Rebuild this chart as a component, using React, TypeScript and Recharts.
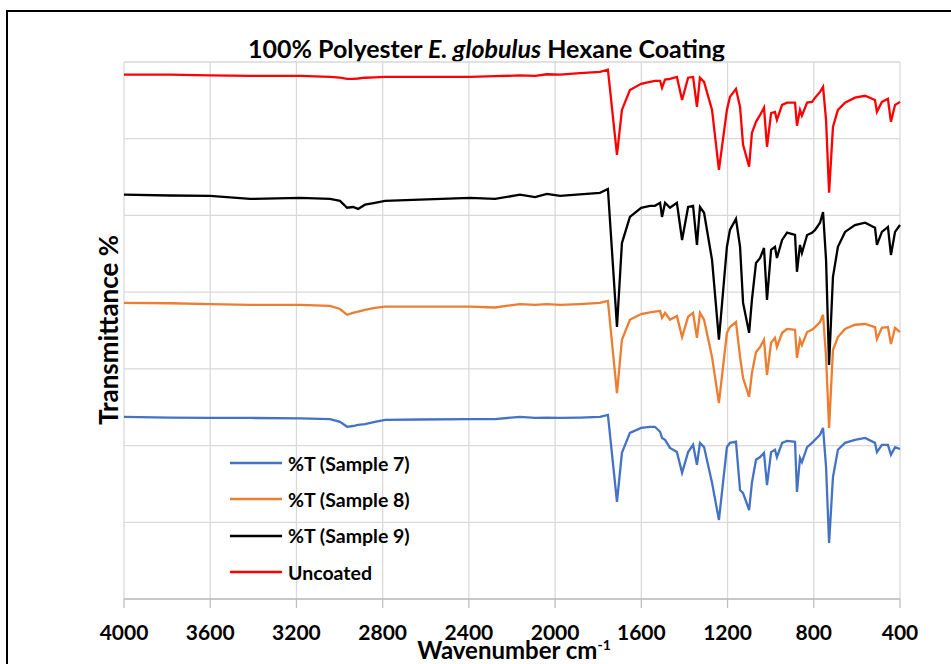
import React from 'react';
import { CartesianGrid, Legend, Line, LineChart, XAxis, YAxis } from 'recharts';

const FONT = 'Lato, "Noto Sans", sans-serif';

// wavenumber (cm-1) of every sampled point, high to low
const wavenumbers = [
  4000, 3787, 3601, 3415, 3183, 3044, 2998, 2965, 2938, 2914, 2882, 2836, 2789, 2627, 2395, 2279, 2163, 2093, 2038,
  1977, 1885, 1792, 1755, 1713, 1690, 1653, 1601, 1560, 1537, 1513, 1504, 1490, 1467, 1435, 1411, 1383, 1360, 1342,
  1328, 1309, 1272, 1240, 1203, 1189, 1161, 1142, 1128, 1100, 1087, 1068, 1049, 1031, 1017, 998, 980, 971, 947, 924,
  887, 878, 864, 855, 831, 808, 794, 771, 757, 743, 729, 711, 688, 655, 609, 562, 516, 507, 484, 456, 442, 423, 400,
];

// stacked %T traces (offset units)
const sample7 = [
  47.5, 47.3, 47.2, 47.2, 47.1, 46.9, 46.2, 44.9, 45.1, 45.4, 45.6, 46.2, 46.7, 46.8, 46.9, 46.9, 47.5, 47.2, 47.3,
  47.2, 47.3, 47.5, 48.0,
  25.3, 38.1, 43.3, 44.6, 44.9, 44.9, 43.6, 42.0, 41.5, 39.4, 38.3, 32.9, 38.3, 40.2, 35.0, 40.7, 39.6, 30.3, 20.6,
  39.6, 40.7, 41.0, 28.4, 27.6, 23.2, 30.3, 36.3, 37.0, 38.1, 29.7, 38.3, 38.9, 37.0, 40.7, 41.2, 41.0, 27.9, 36.8,
  35.7, 39.6, 40.7, 41.5, 42.8, 44.6, 34.4, 14.6, 31.8, 38.9, 40.7, 41.5, 42.0, 40.7, 38.3, 40.2, 40.2, 37.6, 39.6,
  39.1,
];

const sample8 = [
  77.2, 77.1, 76.9, 76.7, 76.7, 76.4, 75.6, 74.1, 74.6, 74.9, 75.4, 75.9, 76.2, 76.2, 76.2, 76.0, 76.9, 76.7, 76.9,
  76.7, 76.9, 77.2, 77.7,
  53.7, 67.6, 72.8, 74.3, 74.7, 74.9, 75.1, 73.3, 74.6, 72.8, 73.8, 68.3, 73.6, 74.6, 68.1, 74.6, 72.8, 63.1, 51.1,
  69.4, 70.9, 72.2, 63.1, 57.6, 52.7, 58.9, 64.4, 65.7, 67.6, 58.4, 66.8, 68.1, 65.7, 69.4, 70.4, 70.2, 62.9, 67.6,
  66.2, 69.6, 70.2, 70.9, 72.2, 74.1, 63.1, 44.6, 64.9, 68.3, 70.4, 71.5, 71.7, 70.9, 67.8, 70.7, 70.9, 66.5, 70.7,
  69.6,
];

const sample9 = [
  105.4, 105.2, 105.1, 104.3, 104.6, 104.3, 103.8, 102.0, 102.2, 101.7, 102.8, 103.3, 103.8, 104.1, 104.6, 104.3,
  105.4, 104.8, 105.6, 105.1, 105.5, 105.9, 106.9,
  70.9, 92.8, 99.6, 102.0, 102.5, 102.5, 103.3, 99.6, 103.3, 102.0, 103.3, 93.6, 102.2, 102.5, 92.3, 102.2, 100.7,
  88.4, 67.6, 91.8, 96.2, 99.1, 91.8, 77.2, 69.4, 78.0, 87.6, 88.9, 91.5, 78.0, 91.0, 91.8, 88.9, 93.6, 95.5, 94.9,
  85.3, 92.3, 90.2, 94.9, 95.5, 96.2, 98.1, 100.9, 88.4, 61.0, 84.0, 91.8, 95.7, 97.5, 98.1, 96.8, 92.3, 95.7, 97.0,
  89.7, 95.7, 97.5,
];

const uncoated = [
  136.7, 136.7, 136.5, 136.4, 136.4, 136.1, 135.9, 135.6, 135.6, 135.7, 135.9, 136.0, 136.1, 136.1, 136.1, 136.3,
  136.5, 136.4, 136.8, 136.7, 137.1, 137.4, 138.0,
  115.8, 127.5, 132.7, 134.3, 134.8, 135.1, 135.1, 133.3, 135.4, 135.6, 136.1, 130.1, 135.9, 136.1, 128.3, 135.9,
  134.8, 127.5, 111.9, 127.5, 130.9, 133.0, 128.3, 118.4, 112.7, 121.5, 124.4, 126.2, 128.1, 117.9, 126.7, 127.0,
  124.9, 128.8, 129.4, 129.4, 123.4, 127.5, 126.0, 129.4, 129.6, 130.7, 132.2, 133.5, 124.9, 105.9, 123.1, 127.5,
  129.4, 130.7, 131.2, 130.1, 127.0, 129.6, 130.4, 124.4, 128.8, 129.6,
];

const xTicks = [4000, 3600, 3200, 2800, 2400, 2000, 1600, 1200, 800, 400];
const minorTicks = Array.from({ length: 46 }, (_, i) => 4000 - i * 80);
const yTicks = [0, 20, 40, 60, 80, 100, 120, 140];

const series = [
  { key: 's7', name: '%T (Sample 7)', color: '#4472C4' },
  { key: 's8', name: '%T (Sample 8)', color: '#ED7D31' },
  { key: 's9', name: '%T (Sample 9)', color: '#000000' },
  { key: 'un', name: 'Uncoated', color: '#FF0000' },
];

const data = wavenumbers.map((wn, i) => ({
  wn,
  s7: sample7[i],
  s8: sample8[i],
  s9: sample9[i],
  un: uncoated[i],
}));

const renderLegend = (props: any) => {
  const { payload = [] } = props;
  return (
    <div style={{ fontFamily: FONT, fontWeight: 700, fontSize: 19.5, color: '#000' }}>
      {payload.map((entry: any) => (
        <div key={entry.value} style={{ display: 'flex', alignItems: 'center', height: 36.3 }}>
          <svg width={52} height={4}>
            <line x1={0} y1={2} x2={52} y2={2} stroke={entry.color} strokeWidth={2.5} />
          </svg>
          <span style={{ marginLeft: 6 }}>{entry.value}</span>
        </div>
      ))}
    </div>
  );
};

export default function App() {
  return (
    <div
      style={{
        position: 'absolute',
        left: 0,
        top: 0,
        width: 951,
        height: 664,
        overflow: 'hidden',
        background: '#fff',
        fontFamily: FONT,
      }}
    >
      <div
        style={{
          position: 'absolute',
          left: 6,
          top: 10,
          width: 1000,
          height: 700,
          borderLeft: '2px solid #000',
          borderTop: '2px solid #000',
        }}
      />
      <div
        style={{
          position: 'absolute',
          left: 0,
          top: 33,
          width: 973,
          textAlign: 'center',
          fontSize: 25,
          lineHeight: '30px',
          fontWeight: 700,
          color: '#000',
        }}
      >
        100% Polyester <i>E. globulus</i> Hexane Coating
      </div>

      <LineChart
        width={951}
        height={664}
        data={data}
        margin={{ top: 62, right: 51, bottom: 0, left: 124 }}
        style={{ position: 'absolute', left: 0, top: 0 }}
      >
        <CartesianGrid xAxisId="major" stroke="#d9d9d9" strokeWidth={1.3} />
        <XAxis
          xAxisId="minor"
          dataKey="wn"
          type="number"
          domain={[400, 4000]}
          reversed
          ticks={minorTicks}
          interval={0}
          height={0}
          mirror
          axisLine={false}
          tick={false}
          tickSize={6}
          tickLine={{ stroke: '#bfbfbf', strokeWidth: 1.3 }}
        />
        <XAxis
          xAxisId="major"
          dataKey="wn"
          type="number"
          domain={[400, 4000]}
          reversed
          ticks={xTicks}
          interval={0}
          height={65}
          axisLine={{ stroke: '#bfbfbf', strokeWidth: 1.3 }}
          tickLine={{ stroke: '#bfbfbf', strokeWidth: 1.3 }}
          tickSize={9}
          tickMargin={17}
          tick={{ fontFamily: FONT, fontSize: 21, fontWeight: 700, fill: '#000' }}
        />
        <YAxis domain={[0, 140]} ticks={yTicks} hide />
        <Legend
          layout="vertical"
          align="center"
          verticalAlign="middle"
          content={renderLegend}
          wrapperStyle={{ left: 230, top: 445, width: 220 }}
        />
        {series.map((s) => (
          <Line
            key={s.key}
            xAxisId="major"
            type="linear"
            dataKey={s.key}
            name={s.name}
            stroke={s.color}
            strokeWidth={2.3}
            dot={false}
            activeDot={false}
            isAnimationActive={false}
          />
        ))}
      </LineChart>

      <div
        style={{
          position: 'absolute',
          left: 108,
          top: 330,
          transform: 'translate(-50%, -50%) rotate(-90deg)',
          whiteSpace: 'nowrap',
          fontSize: 26,
          fontWeight: 700,
          color: '#000',
        }}
      >
        Transmittance %
      </div>
      <div
        style={{
          position: 'absolute',
          left: 514,
          top: 650,
          transform: 'translate(-50%, -50%)',
          whiteSpace: 'nowrap',
          fontSize: 24,
          lineHeight: '22px',
          fontWeight: 700,
          color: '#000',
        }}
      >
        Wavenumber cm<sup style={{ fontSize: 14, lineHeight: 0 }}>-1</sup>
      </div>
    </div>
  );
}
